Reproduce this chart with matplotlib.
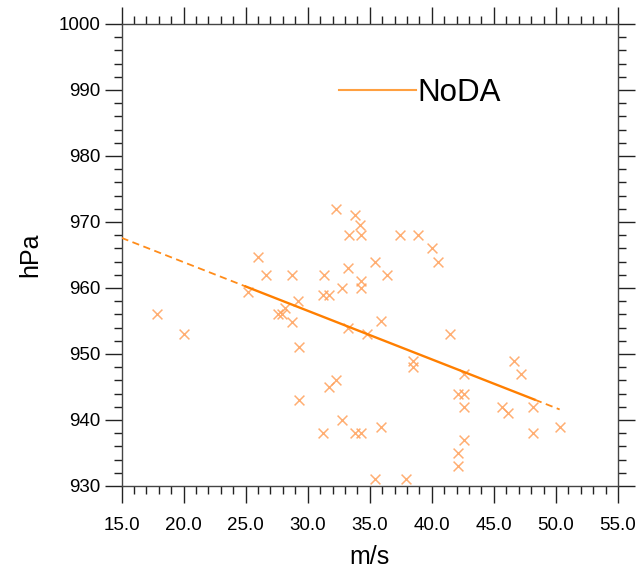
import matplotlib
matplotlib.use("Agg")
import matplotlib.pyplot as plt
from matplotlib.ticker import MultipleLocator, FormatStrFormatter
from matplotlib.lines import Line2D
import numpy as np

plt.rcParams['font.family'] = ['Liberation Sans', 'DejaVu Sans']

# wind speed (m/s) and minimum sea level pressure (hPa)
wind = [17.9, 20.0, 25.2, 26.0, 26.65, 27.6, 27.96, 28.15, 28.7, 28.76,
        29.2, 29.3, 29.3, 31.3, 31.25, 31.7, 32.3, 31.7, 32.3, 32.8,
        32.8, 31.25, 33.25, 33.3, 33.25, 33.85, 33.85, 34.2, 34.3, 34.3,
        34.3, 34.33, 34.8, 35.4, 35.4, 35.9, 35.9, 36.4, 37.4, 37.9,
        38.45, 38.45, 38.85, 40.0, 40.5, 41.5, 42.07, 42.07, 42.07, 42.6,
        42.6, 42.6, 42.6, 45.63, 46.14, 46.65, 47.2, 48.17, 48.17, 50.3]
pres = [956, 953, 959.4, 964.7, 962, 956, 956, 957, 962, 954.8,
        958, 951, 943, 962, 959, 959, 972, 945, 946, 960,
        940, 938, 963, 968, 954, 971, 938, 969.6, 968, 961,
        960, 938, 953, 964, 931, 955, 939, 962, 968, 931,
        949, 948, 968, 966, 964, 953, 944, 935, 933, 944,
        947, 942, 937, 942, 941, 949, 947, 942, 938, 939]

# regression line: endpoints and solid part
fit_x = [15.0, 50.3]
fit_y = [967.6, 941.6]
solid_range = [25.0, 48.3]

series_label = "NoDA"

fig = plt.figure(figsize=(6.4, 5.72), dpi=100)
ax = fig.add_axes([121.5 / 640, 1 - 486 / 572, (618 - 121.5) / 640, (486 - 24) / 572])

ax.scatter(wind, pres, marker='x', s=50, linewidths=1.1, color='#FFA05A', alpha=0.85, zorder=3)

def fy(x):
    return np.interp(x, fit_x, fit_y)

xd1 = np.array([fit_x[0], solid_range[0]])
xs = np.array(solid_range)
xd2 = np.array([solid_range[1], fit_x[1]])
ax.plot(xd1, fy(xd1), color='#FF8C1A', lw=1.3, ls=(0, (4, 2.5)), zorder=4)
ax.plot(xs, fy(xs), color='#FF7F00', lw=1.7, zorder=4)
ax.plot(xd2, fy(xd2), color='#FF8C1A', lw=1.3, ls=(0, (4, 2.5)), zorder=4)

ax.set_xlim(15, 55)
ax.set_ylim(930, 1000)
ax.xaxis.set_major_locator(MultipleLocator(5))
ax.xaxis.set_minor_locator(MultipleLocator(1))
ax.yaxis.set_major_locator(MultipleLocator(10))
ax.yaxis.set_minor_locator(MultipleLocator(2))
ax.xaxis.set_major_formatter(FormatStrFormatter('%.1f'))
ax.yaxis.set_major_formatter(FormatStrFormatter('%d'))

ax.tick_params(which='both', direction='out', top=True, right=True, color='#222222', width=1)
ax.tick_params(which='major', length=12, labelsize=13.5, pad=3)
ax.tick_params(axis='x', which='major', pad=10)
ax.tick_params(which='minor', length=6)
for s in ax.spines.values():
    s.set_color('#444444')
    s.set_linewidth(1)

ax.set_xlabel('m/s', fontsize=18, labelpad=8)
ax.set_ylabel('hPa', fontsize=18, labelpad=12)

handle = Line2D([], [], color='#FFA040', lw=1.5)
fig.legend([handle], [series_label], loc='center left',
           bbox_to_anchor=(339 / 640, 1 - 93 / 572), frameon=False,
           fontsize=22.5, handlelength=2.45, handletextpad=0.07,
           borderpad=0, borderaxespad=0)

fig.savefig('out.png', dpi=100)
